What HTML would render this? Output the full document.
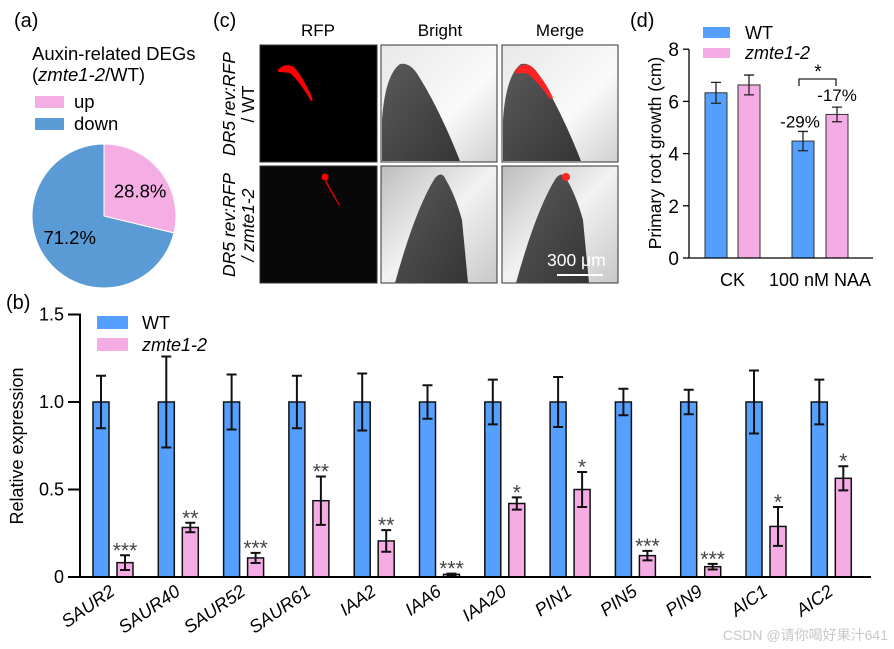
<!DOCTYPE html>
<html><head><meta charset="utf-8"><style>
body{margin:0;background:#fff;width:894px;height:649px;overflow:hidden}
svg{display:block;font-family:"Liberation Sans",Arial,sans-serif}
</style></head><body>
<svg id="fig" width="894" height="649" viewBox="0 0 894 649">
<defs>
<linearGradient id="bg1" x1="0" y1="0" x2="1" y2="1"><stop offset="0" stop-color="#e8e8e8"/><stop offset="0.6" stop-color="#fafafa"/><stop offset="1" stop-color="#d0d0d0"/></linearGradient>
<linearGradient id="bg2" x1="0" y1="0" x2="1" y2="1"><stop offset="0" stop-color="#bdbdbd"/><stop offset="0.5" stop-color="#f2f2f2"/><stop offset="1" stop-color="#c8c8c8"/></linearGradient>
<linearGradient id="root" x1="0" y1="0" x2="1" y2="1"><stop offset="0" stop-color="#5a5a5a"/><stop offset="1" stop-color="#353535"/></linearGradient>
</defs>

<!-- Panel a -->
<g>
<text x="14" y="27" font-size="20">(a)</text>
<text x="32" y="60" font-size="18.5">Auxin-related DEGs</text>
<text x="32" y="81" font-size="18.5">(<tspan font-style="italic">zmte1-2</tspan>/WT)</text>
<rect x="35" y="96" width="29" height="12" fill="#f4aee3"/>
<text x="74" y="108" font-size="18.5">up</text>
<rect x="35" y="118" width="29" height="12" fill="#5b9bd5"/>
<text x="74" y="130" font-size="18.5">down</text>
<g id="pie"></g>
</g>

<!-- Panel c -->
<g>
<text x="213" y="27" font-size="20">(c)</text>
<text x="318" y="36" font-size="17" text-anchor="middle">RFP</text>
<text x="440" y="36" font-size="17" text-anchor="middle">Bright</text>
<text x="560" y="36" font-size="17" text-anchor="middle">Merge</text>
<text transform="translate(235,104) rotate(-90)" font-size="17.5" text-anchor="middle" font-style="italic">DR5 rev:RFP</text>
<text transform="translate(254,104) rotate(-90)" font-size="17.5" text-anchor="middle">/ WT</text>
<text transform="translate(235,225) rotate(-90)" font-size="17.5" text-anchor="middle" font-style="italic">DR5 rev:RFP</text>
<text transform="translate(254,225) rotate(-90)" font-size="17.5" text-anchor="middle" font-style="italic">/ zmte1-2</text>
<rect x="260" y="45" width="117" height="117" fill="#000" stroke="#333"/>
<path d="M278,70 Q285,62 294,67 Q305,80 313,100 L311,101 Q300,82 290,73 Q283,72 278,72Z" fill="#f00"/>
<rect x="381" y="45" width="116" height="117" fill="url(#bg1)" stroke="#333"/>
<path d="M382,120 Q385,75 400,64 Q410,62 418,75 Q440,110 460,161 L382,161Z" fill="url(#root)"/>
<rect x="502" y="45" width="116" height="117" fill="url(#bg1)" stroke="#333"/>
<path d="M503,120 Q506,75 521,64 Q531,62 539,75 Q561,110 581,161 L503,161Z" fill="url(#root)"/>
<path d="M516,70 Q522,62 531,66 Q545,80 553,98 L550,99 Q538,82 528,74 Q520,72 516,74Z" fill="#f22"/>
<rect x="260" y="166" width="117" height="117" fill="#080808" stroke="#333"/>
<circle cx="325" cy="177" r="3.5" fill="#f00"/>
<path d="M326,180 L340,205 L339,206 L325,182Z" fill="#c00"/>
<rect x="381" y="166" width="116" height="117" fill="url(#bg2)" stroke="#333"/>
<path d="M395,283 Q415,210 435,178 Q442,170 446,180 Q455,195 462,220 L468,283Z" fill="url(#root)"/>
<rect x="502" y="166" width="116" height="117" fill="url(#bg2)" stroke="#333"/>
<path d="M516,283 Q536,210 556,178 Q563,170 567,180 Q576,195 583,220 L589,283Z" fill="url(#root)"/>
<circle cx="566" cy="177" r="4" fill="#f22"/>
<text x="547" y="266" font-size="17.5" fill="#fff">300 μm</text>
<line x1="557" y1="275" x2="603" y2="275" stroke="#fff" stroke-width="2"/>
</g>

<!-- Panel d -->
<g id="pd">
<text x="630" y="27" font-size="20">(d)</text>
<rect x="703" y="27" width="27" height="11" fill="#55a0ff"/>
<text x="745" y="39" font-size="18">WT</text>
<rect x="703" y="48" width="27" height="10" fill="#f5abe3"/>
<text x="745" y="59" font-size="18" font-style="italic">zmte1-2</text>
<text transform="translate(661,153) rotate(-90)" font-size="17.5" text-anchor="middle">Primary root  growth (cm)</text>
</g>

<!-- Panel b -->
<g id="pb">
<text x="6" y="309" font-size="20">(b)</text>
<rect x="97" y="316" width="31" height="13" fill="#55a0ff"/>
<text x="142" y="329" font-size="18">WT</text>
<rect x="97" y="338" width="31" height="13" fill="#f5abe3"/>
<text x="142" y="351" font-size="18" font-style="italic">zmte1-2</text>
<text transform="translate(23,446) rotate(-90)" font-size="18" text-anchor="middle">Relative expression</text>
</g>
<text x="888" y="640" font-size="14" fill="#c8c8c8" text-anchor="end" font-family="Liberation Sans,'Noto Sans CJK SC',sans-serif">CSDN @请你喝好果汁641</text>
</svg>
<script>
const NS="http://www.w3.org/2000/svg";
const pieLabels=["up","down"];
const pieValues=[28.8,71.2];
const genes=["SAUR2","SAUR40","SAUR52","SAUR61","IAA2","IAA6","IAA20","PIN1","PIN5","PIN9","AIC1","AIC2"];
const wtVals=[1,1,1,1,1,1,1,1,1,1,1,1];
const wtErr=[0.15,0.26,0.157,0.15,0.163,0.096,0.128,0.143,0.076,0.07,0.18,0.128];
const mutVals=[0.082,0.283,0.109,0.436,0.206,0.015,0.42,0.5,0.122,0.059,0.289,0.564];
const mutErr=[0.042,0.027,0.029,0.138,0.062,0.004,0.035,0.1,0.027,0.016,0.111,0.069];
const sig=["***","**","***","**","**","***","*","*","***","***","*","*"];
const bTicks=[0,0.5,1.0,1.5];
const bTickLabels=["0","0.5","1.0","1.5"];
const dGroups=["CK","100 nM NAA"];
const dWt=[6.33,4.48];
const dWtErr=[0.4,0.37];
const dMut=[6.63,5.5];
const dMutErr=[0.38,0.28];
const dPct=["","-29%"];
const dPctMut=["","-17%"];
const dTicks=[0,2,4,6,8];

function el(tag,attrs,parent,txt){const e=document.createElementNS(NS,tag);for(const k in attrs)e.setAttribute(k,attrs[k]);if(txt!==undefined)e.textContent=txt;parent.appendChild(e);return e;}

(function(){
const g=document.getElementById('pie');const cx=104,cy=216,r=72;
const cols=["#f5aee3","#5b9bd5"];const tot=pieValues.reduce((a,b)=>a+b,0);
let a0=-Math.PI/2;
pieValues.forEach((v,i)=>{
 const a1=a0+v/tot*2*Math.PI;const large=(a1-a0)>Math.PI?1:0;
 const p=el('path',{d:`M${cx},${cy} L${cx+r*Math.cos(a0)},${cy+r*Math.sin(a0)} A${r},${r} 0 ${large} 1 ${cx+r*Math.cos(a1)},${cy+r*Math.sin(a1)}Z`,fill:cols[i],stroke:"#fff","stroke-width":1},g);
 
 
 const am=(a0+a1)/2;const lr=i==0?r*0.55:r*0.5;
 const t=el('text',{x:cx+lr*Math.cos(am)+(i==0?5:-6),y:cy+lr*Math.sin(am)+6,"font-size":18.5,"text-anchor":"middle"},g,v.toFixed(1)+"%");
 
 
 a0=a1;});
})();

(function(){
const g=document.getElementById('pb');
const x0=80,y0=577,pxU=175,step=65.3,first=101,bw=16;
const Y=v=>y0-v*pxU;
bTicks.forEach((t,i)=>{
 const l=el('line',{x1:x0-12,x2:x0,y1:Y(t),y2:Y(t),stroke:"#000","stroke-width":2},g);
 
 
 const tx=el('text',{x:x0-16,y:Y(t)+6,"font-size":18,"text-anchor":"end"},g,bTickLabels[i]);
 
 
});
const ax=el('line',{x1:x0,x2:x0,y1:Y(1.5)-1,y2:y0,stroke:"#000","stroke-width":2},g);


function errbar(cx,v,e,name){
 const p=el('path',{d:`M${cx},${Y(v+e)} V${Y(v-e)} M${cx-5},${Y(v+e)} H${cx+5} M${cx-5},${Y(v-e)} H${cx+5}`,stroke:"#111","stroke-width":2,fill:"none"},g);
 
 
}
genes.forEach((gn,i)=>{
 const cw=first+i*step, cm=cw+24;
 const b1=el('rect',{x:cw-bw/2,y:Y(wtVals[i]),width:bw,height:wtVals[i]*pxU,fill:"#55a0ff",stroke:"#111","stroke-width":1.5},g);
 
 
 errbar(cw,wtVals[i],wtErr[i],'error-bar-wt-'+gn.toLowerCase());
 const b2=el('rect',{x:cm-bw/2,y:Y(mutVals[i]),width:bw,height:mutVals[i]*pxU,fill:"#f5abe3",stroke:"#111","stroke-width":1.5},g);
 
 
 errbar(cm,mutVals[i],mutErr[i],'error-bar-mut-'+gn.toLowerCase());
 const s=el('text',{x:cm,y:Y(mutVals[i]+mutErr[i])+2,"font-size":21,"text-anchor":"middle",fill:"#444"},g,sig[i]);
 
 
 const lx=cw+15, ly=y0+17;
 const t=el('text',{transform:`translate(${lx},${ly}) rotate(-35)`,"font-size":18,"font-style":"italic","text-anchor":"end"},g,gn);
 
 
});
const xa=el('line',{x1:x0,x2:871,y1:y0,y2:y0,stroke:"#000","stroke-width":2},g);


})();

(function(){
const g=document.getElementById('pd');
const x0=689,y0=258,pxU=26.1,bw=22;
const Y=v=>y0-v*pxU;
const wtX=[716,803],mutX=[749,837];
dTicks.forEach(t=>{
 const l=el('line',{x1:x0-6,x2:x0,y1:Y(t),y2:Y(t),stroke:"#000","stroke-width":1.3},g);
 
 
 const tx=el('text',{x:x0-10,y:Y(t)+7,"font-size":19,"text-anchor":"end"},g,String(t));
 
 
});
const ax=el('line',{x1:x0,x2:x0,y1:Y(8),y2:y0,stroke:"#000","stroke-width":1.3},g);


function errbar(cx,v,e,name){
 const p=el('path',{d:`M${cx},${Y(v+e)} V${Y(v-e)} M${cx-5},${Y(v+e)} H${cx+5} M${cx-5},${Y(v-e)} H${cx+5}`,stroke:"#222","stroke-width":1.3,fill:"none"},g);
 
 
}
dGroups.forEach((gn,i)=>{
 const b1=el('rect',{x:wtX[i]-bw/2,y:Y(dWt[i]),width:bw,height:dWt[i]*pxU,fill:"#55a0ff",stroke:"#333","stroke-width":1},g);
 
 
 errbar(wtX[i],dWt[i],dWtErr[i],'error-bar-wt-d-'+i);
 const b2=el('rect',{x:mutX[i]-bw/2,y:Y(dMut[i]),width:bw,height:dMut[i]*pxU,fill:"#f5abe3",stroke:"#333","stroke-width":1},g);
 
 
 errbar(mutX[i],dMut[i],dMutErr[i],'error-bar-mut-d-'+i);
 if(dPct[i]){
  const p1=el('text',{x:wtX[i]-3,y:Y(dWt[i]+dWtErr[i])-4,"font-size":17,"text-anchor":"middle"},g,dPct[i]);
  
  
  const p2=el('text',{x:mutX[i],y:Y(dMut[i]+dMutErr[i])-6,"font-size":17,"text-anchor":"middle"},g,dPctMut[i]);
  
  
  const br=el('path',{d:`M${wtX[i]-4},86 V79 H${mutX[i]-1} V86`,stroke:"#222","stroke-width":1.3,fill:"none"},g);
  
  
  const s=el('text',{x:(wtX[i]+mutX[i])/2-2,y:78,"font-size":19,"text-anchor":"middle"},g,"*");
  
  
 }
 const t=el('text',{x:(wtX[i]+mutX[i])/2,y:286,"font-size":18,"text-anchor":"middle"},g,gn);
 
 
});
const xa=el('line',{x1:x0,x2:873,y1:y0,y2:y0,stroke:"#000","stroke-width":1.3},g);


})();
</script>
</body></html>
